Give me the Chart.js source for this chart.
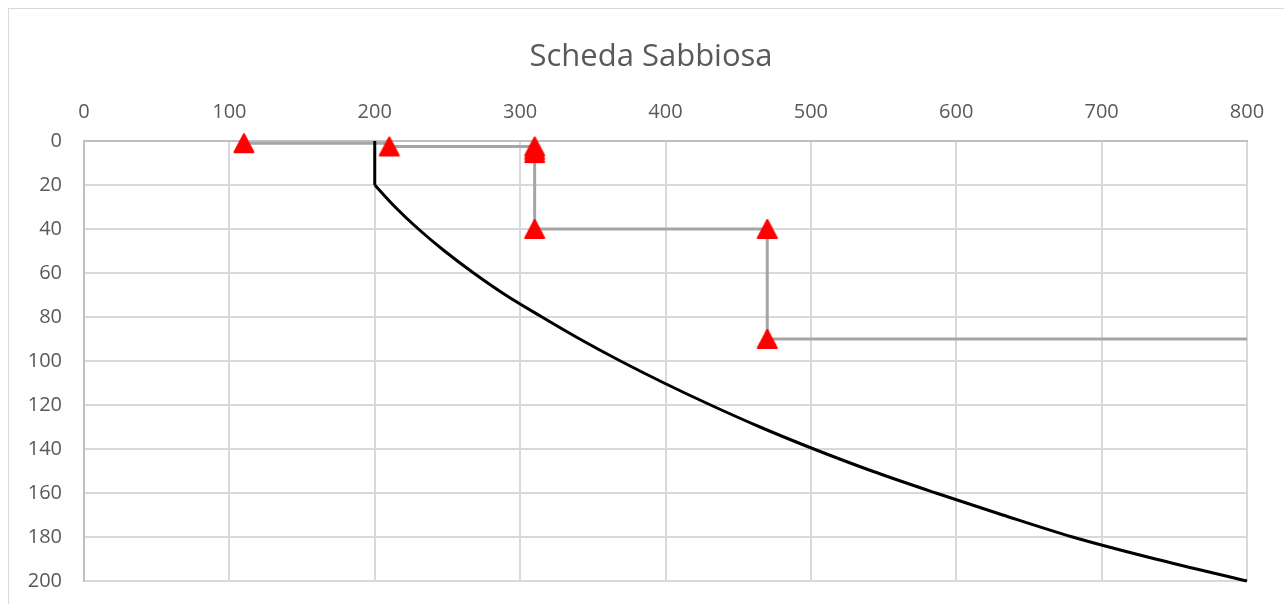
<!DOCTYPE html>
<html>
<head>
<meta charset="utf-8">
<title>Scheda Sabbiosa</title>
<script src="https://cdn.jsdelivr.net/npm/chart.js@4.4.1/dist/chart.umd.min.js"></script>
<style>
  html, body { margin: 0; padding: 0; background: #fff; }
  #wrap { position: relative; width: 1284px; height: 604px; overflow: hidden; }
  #frame { position: absolute; left: 8px; top: 8px; width: 1400px; height: 700px;
           border: 1px solid #d9d9d9; box-sizing: border-box; pointer-events: none; }
  canvas { position: absolute; left: 0; top: 0; }
</style>
</head>
<body>
<div id="wrap">
  <canvas id="chart" width="1284" height="604"></canvas>
  <div id="frame"></div>
</div>
<script>
// Vertical stretch of the limit line near the surface
const topX     = [200, 200];
const topDepth = [0,   20];

// Limit curve below 20: horizontal value against depth
const curveX     = [200, 214, 230, 248, 268, 290, 315, 341, 369, 399, 431, 465, 502, 542, 586, 632, 680, 737, 800];
const curveDepth = [20,  30,  40,  50,  60,  70,  80,  90,  100, 110, 120, 130, 140, 150, 160, 170, 180, 190, 200];

// Measured step profile
const profileX      = [110, 210, 210, 310, 310, 310, 310, 470, 470, 800];
const profileDepth  = [1,   1,   2.5, 2.5, 4,   5.5, 40,  40,  90,  90];
const profileMarked = [true, false, true, true, true, true, true, true, true, false];

// Axis ticks
const xTicks = [0, 100, 200, 300, 400, 500, 600, 700, 800];
const yTicks = [0, 20, 40, 60, 80, 100, 120, 140, 160, 180, 200];

const titleText = 'Scheda Sabbiosa';

// Red triangle marker with rounded corners
function makeTriangle() {
  const c = document.createElement('canvas');
  c.width = 24; c.height = 24;
  const g = c.getContext('2d');
  g.fillStyle = '#ff0000';
  g.strokeStyle = '#ff0000';
  g.lineWidth = 2;
  g.lineJoin = 'round';
  g.beginPath();
  g.moveTo(12, 3);
  g.lineTo(21.5, 21);
  g.lineTo(2.5, 21);
  g.closePath();
  g.fill();
  g.stroke();
  return c;
}
const tri = makeTriangle();

const toPoints = (xs, ys) => xs.map((x, i) => ({ x: x, y: ys[i] }));

const labelFont = { family: 'Open Sans', size: 20 };

const blackLine = {
  showLine: true,
  borderColor: '#000000',
  borderWidth: 3,
  pointRadius: 0,
  clip: false
};

// Centre the title over the framed chart rather than the canvas minus right padding
const titleShift = {
  id: 'titleShift',
  afterLayout(chart) {
    const t = chart.titleBlock;
    if (t) { t.left += 27.5; t.right += 27.5; }
  }
};

new Chart(document.getElementById('chart'), {
  type: 'scatter',
  plugins: [titleShift],
  data: {
    datasets: [
      Object.assign({ label: 'Limite', data: toPoints(topX, topDepth), tension: 0 }, blackLine),
      Object.assign({ label: 'Curva', data: toPoints(curveX, curveDepth), cubicInterpolationMode: 'monotone' }, blackLine),
      {
        label: 'Profilo',
        data: toPoints(profileX, profileDepth),
        showLine: true,
        borderColor: '#a5a5a5',
        borderWidth: 3,
        tension: 0,
        pointStyle: tri,
        pointRadius: profileMarked.map(m => m ? 10 : 0),
        clip: false
      }
    ]
  },
  options: {
    responsive: false,
    animation: false,
    layout: { padding: { left: 0, right: 37, top: 0, bottom: 23 } },
    plugins: {
      legend: { display: false },
      tooltip: { enabled: false },
      title: {
        display: true,
        text: titleText,
        color: '#595959',
        font: { family: 'Open Sans', size: 31, weight: 'normal', lineHeight: 1.2 },
        padding: { top: 38.5, bottom: 0 }
      }
    },
    scales: {
      x: {
        type: 'linear',
        position: 'top',
        min: 0,
        max: 800,
        afterBuildTicks: s => { s.ticks = xTicks.map(v => ({ value: v })); },
        afterFit: s => { s.height = 65.3; },
        ticks: { color: '#595959', font: labelFont, padding: 17, maxRotation: 0 },
        grid: { color: '#d9d9d9', lineWidth: 2, drawTicks: false },
        border: { display: true, color: '#bfbfbf', width: 2 }
      },
      y: {
        type: 'linear',
        reverse: true,
        min: 0,
        max: 200,
        afterBuildTicks: s => { s.ticks = yTicks.map(v => ({ value: v })); },
        afterFit: s => { s.width = 84; s.paddingTop = 0; s.paddingBottom = 0; },
        ticks: { color: '#595959', font: labelFont, padding: 22 },
        grid: { color: '#d9d9d9', lineWidth: 2, drawTicks: false },
        border: { display: true, color: '#bfbfbf', width: 2 }
      }
    }
  }
});
</script>
</body>
</html>
